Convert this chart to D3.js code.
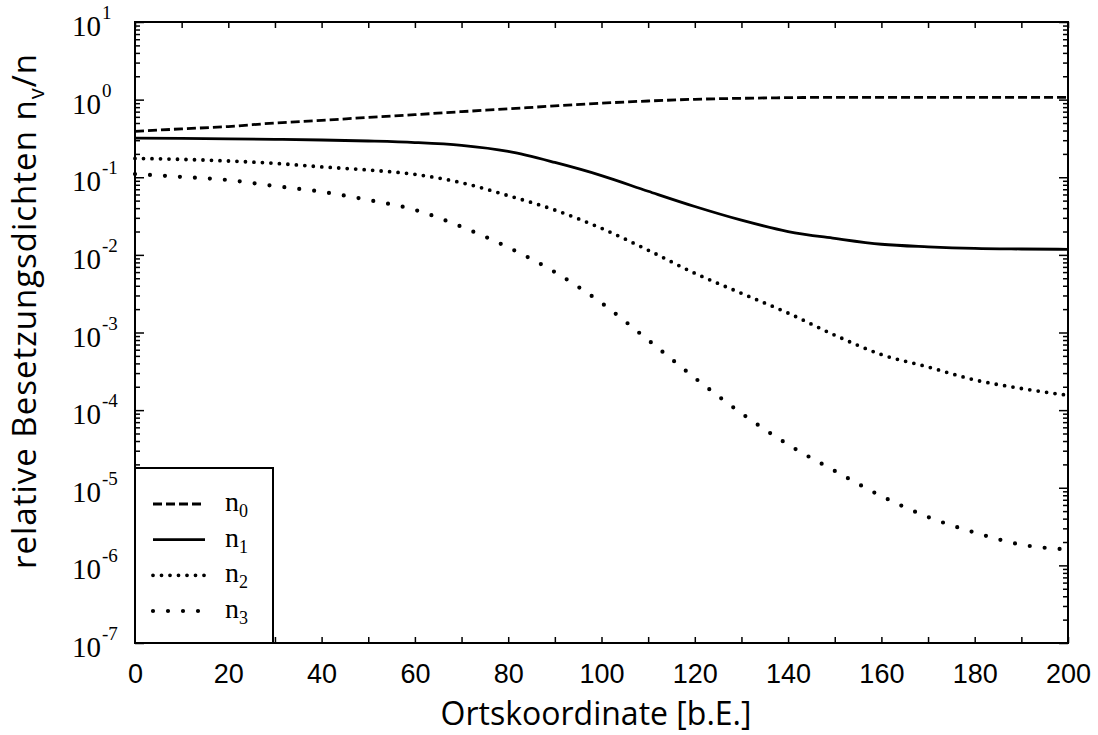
<!DOCTYPE html>
<html>
<head>
<meta charset="utf-8">
<script src="https://cdnjs.cloudflare.com/ajax/libs/d3/7.8.5/d3.min.js"></script>
<style>
  body { margin: 0; background: #fff; }
  svg { display: block; }
</style>
</head>
<body>
<svg width="1098" height="735"></svg>
<script>
// Ortskoordinate [b.E.]
const xs = [0, 10, 20, 30, 40, 50, 60, 70, 80, 90, 100, 110, 120, 130, 140, 150, 160, 170, 180, 190, 200];

// relative Besetzungsdichten
const n0 = [0.39, 0.42, 0.45, 0.50, 0.54, 0.59, 0.64, 0.70, 0.76, 0.83, 0.90, 0.96, 1.01, 1.04, 1.06, 1.07, 1.07, 1.07, 1.07, 1.07, 1.07];
const n1 = [0.32, 0.317, 0.313, 0.308, 0.302, 0.293, 0.28, 0.257, 0.215, 0.155, 0.105, 0.066, 0.042, 0.028, 0.020, 0.0163, 0.0137, 0.0127, 0.0121, 0.0119, 0.0118];
const n2 = [0.175, 0.170, 0.162, 0.151, 0.136, 0.124, 0.109, 0.085, 0.058, 0.0378, 0.022, 0.0115, 0.0058, 0.0032, 0.00178, 9.25e-4, 5.2e-4, 3.6e-4, 2.45e-4, 1.9e-4, 1.55e-4];
const n3 = [0.11, 0.101, 0.092, 0.077, 0.065, 0.051, 0.038, 0.023, 0.0125, 0.006, 0.0024, 8e-4, 2.6e-4, 9.1e-5, 3.6e-5, 1.65e-5, 7.8e-6, 4.2e-6, 2.65e-6, 1.85e-6, 1.6e-6];

const seriesNames = ['0', '1', '2', '3'];
const yDecades = [-7, -6, -5, -4, -3, -2, -1, 0, 1];

const svg = d3.select('svg');
const mLeft = 135, mRight = 1068, mTop = 22, mBottom = 643;

const x = d3.scaleLinear().domain([0, 200]).range([mLeft, mRight]);
const y = d3.scaleLog().domain([1e-7, 10]).range([mBottom, mTop]);

// frame
svg.append('rect')
   .attr('x', mLeft).attr('y', mTop)
   .attr('width', mRight - mLeft).attr('height', mBottom - mTop)
   .attr('fill', 'none').attr('stroke', '#000').attr('stroke-width', 2);

// x ticks (inside, bottom and top)
const xTicks = d3.range(0, 201, 10);
const gx = svg.append('g').attr('transform', `translate(0,${mBottom})`)
   .call(d3.axisBottom(x).tickValues(xTicks).tickSize(-6).tickPadding(21)
         .tickFormat(d => d % 20 === 0 ? d : ''));
gx.select('.domain').remove();
gx.selectAll('text')
  .attr('font-family', 'Liberation Sans, Arial, sans-serif')
  .attr('font-size', 27).attr('fill', '#000');

const gxTop = svg.append('g').attr('transform', `translate(0,${mTop})`)
   .call(d3.axisTop(x).tickValues(xTicks).tickSize(-6).tickFormat(''));
gxTop.select('.domain').remove();

// y ticks: major + minor, left and right
const minor = [];
yDecades.slice(0, -1).forEach(e => {
    for (let k = 2; k <= 9; k++) minor.push(k * Math.pow(10, e));
});
const majors = yDecades.map(e => Math.pow(10, e));

[[d3.axisLeft, mLeft], [d3.axisRight, mRight]].forEach(([ax, pos]) => {
    const gMaj = svg.append('g').attr('transform', `translate(${pos},0)`)
        .call(ax(y).tickValues(majors).tickSize(-9).tickFormat(''));
    gMaj.select('.domain').remove();
    const gMin = svg.append('g').attr('transform', `translate(${pos},0)`)
        .call(ax(y).tickValues(minor).tickSize(-5).tickFormat(''));
    gMin.select('.domain').remove();
});
svg.selectAll('.tick line').attr('stroke', '#000').attr('stroke-width', 1.5);

// y tick labels 10^e
svg.append('g').selectAll('text').data(yDecades).enter()
   .append('text')
   .attr('x', 101)
   .attr('y', d => y(Math.pow(10, d)) + 14)
   .attr('text-anchor', 'end')
   .attr('font-family', 'Liberation Serif, Times New Roman, serif')
   .attr('font-size', 29)
   .attr('fill', '#000')
   .text('10');
svg.append('g').selectAll('text').data(yDecades).enter()
   .append('text')
   .attr('x', 102)
   .attr('y', d => y(Math.pow(10, d)) - 3)
   .attr('font-family', 'Liberation Serif, Times New Roman, serif')
   .attr('font-size', 19)
   .attr('fill', '#000')
   .text(d => d < 0 ? '-' + (-d) : d);

// axis titles
svg.append('text')
   .attr('x', 596).attr('y', 725)
   .attr('text-anchor', 'middle')
   .attr('font-family', 'Open Sans, sans-serif')
   .attr('font-size', 32)
   .attr('fill', '#000')
   .text('Ortskoordinate [b.E.]');

const yt = svg.append('text')
   .attr('transform', 'translate(36,311) rotate(-90)')
   .attr('text-anchor', 'middle')
   .attr('font-family', 'Open Sans, sans-serif')
   .attr('font-size', 33)
   .attr('letter-spacing', 1)
   .attr('fill', '#000');
yt.append('tspan').text('relative Besetzungsdichten n');
yt.append('tspan').attr('font-size', 22).attr('dy', 8).text('v');
yt.append('tspan').attr('dy', -8).text('/n');

// curves
const styles = [
    { data: n0, width: 2.8, dash: '9,4', cap: 'butt' },
    { data: n1, width: 2.8, dash: null, cap: 'butt' },
    { data: n2, width: 3.8, dash: '0,8.5', cap: 'round' },
    { data: n3, width: 4.2, dash: '0,15', cap: 'round' }
];

const line = d3.line()
    .x((d, i) => x(xs[i]))
    .y(d => y(d))
    .curve(d3.curveMonotoneX);

svg.append('g').selectAll('path').data(styles).enter()
   .append('path')
   .attr('d', d => line(d.data))
   .attr('fill', 'none')
   .attr('stroke', '#000')
   .attr('stroke-width', d => d.width)
   .attr('stroke-linecap', d => d.cap)
   .attr('stroke-dasharray', d => d.dash);

// legend
const legend = svg.append('g');
legend.append('rect')
   .attr('x', mLeft).attr('y', 468)
   .attr('width', 138).attr('height', mBottom - 468)
   .attr('fill', '#fff').attr('stroke', '#000').attr('stroke-width', 2);

const ly = d3.scalePoint().domain(seriesNames).range([504, 611]);

const item = legend.selectAll('g.item').data(styles).enter()
   .append('g').attr('class', 'item');
item.append('line')
   .attr('x1', 153).attr('x2', 205)
   .attr('y1', (d, i) => ly(seriesNames[i]))
   .attr('y2', (d, i) => ly(seriesNames[i]))
   .attr('stroke', '#000')
   .attr('stroke-width', d => d.width)
   .attr('stroke-linecap', d => d.cap)
   .attr('stroke-dasharray', d => d.dash);
const lt = item.append('text')
   .attr('x', 225)
   .attr('y', (d, i) => ly(seriesNames[i]) + 7)
   .attr('font-family', 'Liberation Serif, Times New Roman, serif')
   .attr('font-size', 28)
   .attr('fill', '#000');
lt.append('tspan').text('n');
lt.append('tspan').attr('font-size', 18).attr('dy', 6).text((d, i) => seriesNames[i]);
</script>
</body>
</html>
